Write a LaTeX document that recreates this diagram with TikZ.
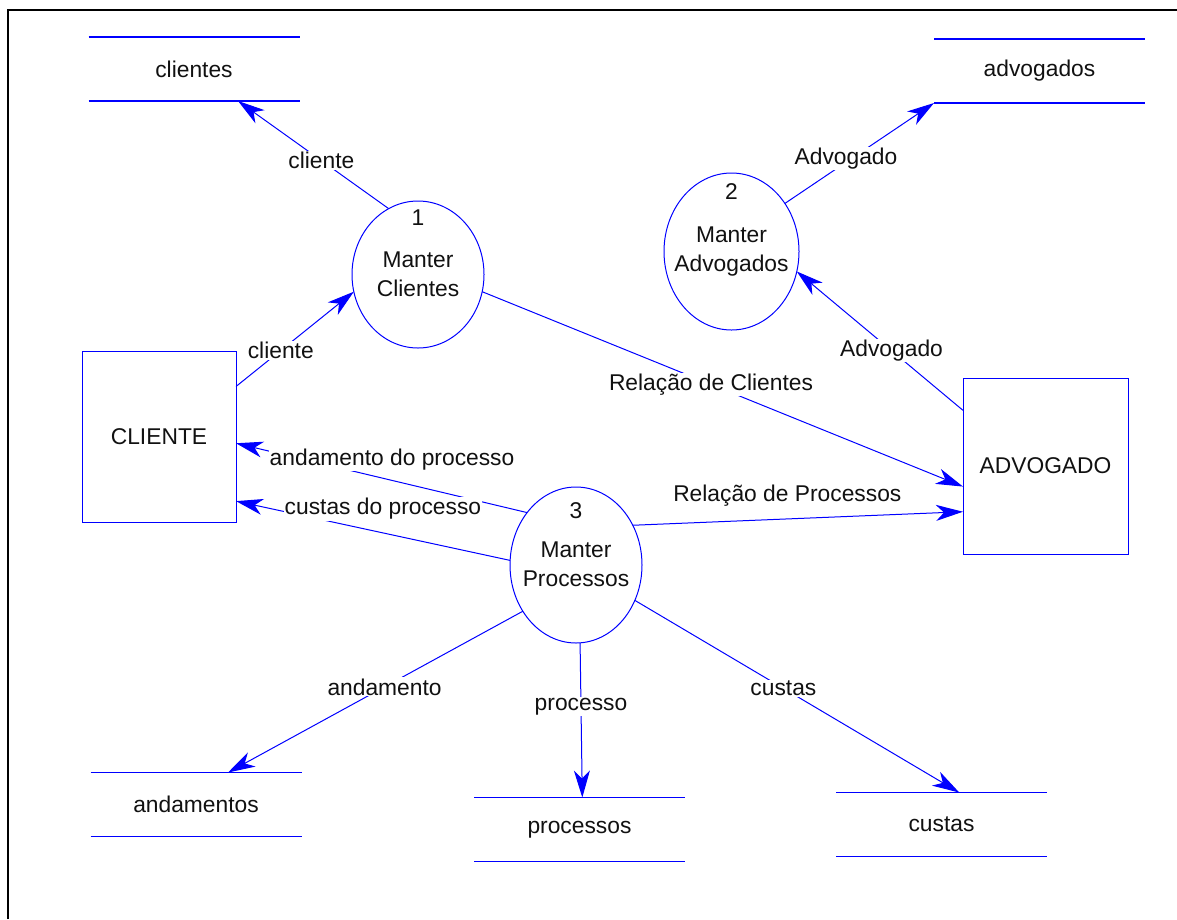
\documentclass[tikz,border=0pt]{standalone}
\usepackage{fontspec}
\setmainfont{Liberation Sans}
\usetikzlibrary{arrows.meta,positioning,shapes.geometric}
\definecolor{cFlow}{HTML}{0000FF}
\definecolor{cText}{HTML}{111111}
\tikzset{
  ext/.style={draw=cFlow, line width=1pt, inner sep=0pt, outer sep=0pt, text=cText},
  proc/.style={ellipse, draw=cFlow, line width=1pt, inner sep=0pt, outer sep=0pt},
  ptext/.style={inner sep=0pt, align=center, text=cText},
  num/.style={inner sep=0pt, text=cText},
  storeline/.style={draw=cFlow, line width=1.2pt},
  store/.style={minimum width=211pt, minimum height=64pt, inner sep=0pt, outer sep=0pt,
    text=cText,
    append after command={(\tikzlastnode.north west) edge[storeline] (\tikzlastnode.north east)
      (\tikzlastnode.south west) edge[storeline] (\tikzlastnode.south east)}},
  flow/.style={-{Stealth[length=27pt, width=16pt, inset=8pt]}, draw=cFlow, line width=1pt},
  lbl/.style={fill=white, inner sep=1pt, text=cText},
  frame/.style={draw=black, line width=2.4pt},
}
\begin{document}
\begin{tikzpicture}[x=1pt, y=-1pt, font=\fontsize{22.8}{29}\selectfont]
    \useasboundingbox (0,0) rectangle (1177,919);
    % page frame (cut at right and bottom)
    \draw[frame] (7.8,919) -- (7.8,10) -- (1177,10);
    % external entities
    \node[ext, minimum width=154pt, minimum height=171pt] (cliente) at (159,436.5) {CLIENTE};
    \node[ext, minimum width=165pt, minimum height=176pt] (advogado) at (1045.5,466) {ADVOGADO};
    % processes
    \node[proc, minimum width=132pt, minimum height=147pt] (p1) at (418,274.5) {};
    \node[proc, minimum width=135pt, minimum height=157pt] (p2) at (731.5,251.5) {};
    \node[proc, minimum width=132pt, minimum height=156pt] (p3) at (576,565) {};
    \node[ptext] (t1) at (p1) {Manter\\Clientes};
    \node[ptext] (t2) at (p2) {Manter\\Advogados};
    \node[ptext, below=-1pt of p3.center, anchor=center] (t3) {Manter\\Processos};
    \node[num, below=9pt of p1.north] (n1) {1};
    \node[num, below=10pt of p2.north] (n2) {2};
    \node[num, below=15pt of p3.north] (n3) {3};
    % data stores
    \node[store] (clientes) at (194,69) {clientes};
    \node[store] (advogados) at (1039.5,71) {advogados};
    \node[store] (andamentos) at (196,804.5) {andamentos};
    \node[store] (processos) at (579.5,829.5) {processos};
    \node[store] (custas) at (941.5,824.5) {custas};
    % flows
    \draw[flow] (p1.114) -- node[lbl, pos=0.447]{cliente} (clientes.-36);
    \draw[flow] (cliente.33.8) -- node[lbl, pos=0.38]{cliente} (p1.195.3);
    \draw[flow] (p1.-15.3) -- node[lbl, pos=0.476]{Relação de Clientes} (advogado.194.3);
    \draw[flow] (advogado.146.3) -- node[lbl, pos=0.43]{Advogado} (p2.-17.4);
    \draw[flow] (p2.42.2) -- node[lbl, pos=0.41, yshift=4pt]{Advogado} (advogados.south west);
    \draw[flow] (p3.133.9) -- node[lbl, pos=0.464, yshift=21pt]{andamento do processo} (cliente.-5.6);
    \draw[flow] (p3.176.5) -- node[lbl, pos=0.464, yshift=24pt]{custas do processo} (cliente.-40.8);
    \draw[flow] (p3.35.5) -- node[lbl, pos=0.468, yshift=23pt]{Relação de Processos} (advogado.209.7);
    \draw[flow] (p3.221) -- node[lbl, pos=0.469]{andamento} (andamentos.45.4);
    \draw[flow] (p3.-87) -- node[lbl, pos=0.41]{processo} (processos.85.5);
    \draw[flow] (p3.-31.7) -- node[lbl, pos=0.458]{custas} (custas.61.7);
  \end{tikzpicture}
\end{document}
